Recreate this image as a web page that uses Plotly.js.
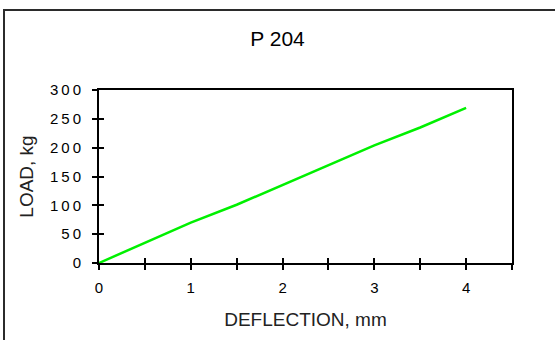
<!DOCTYPE html>
<html>
<head>
<meta charset="utf-8">
<script src="https://cdn.plot.ly/plotly-3.0.1.min.js"></script>
<style>
html,body{margin:0;padding:0;background:#fff;}
#wrap{position:relative;width:555px;height:340px;overflow:hidden;}
#chart{width:555px;height:340px;}
#frame{position:absolute;left:3px;top:9px;width:700px;height:500px;border-left:2px solid #2b2b2b;border-top:2px solid #2b2b2b;pointer-events:none;}
.ytick text{letter-spacing:3px;}
</style>
</head>
<body>
<div id="wrap"><div id="chart"></div><div id="frame"></div></div>
<script>
const chartTitle = "P 204";
const xTitle = "DEFLECTION, mm";
const yTitle = "LOAD, kg";
const deflection = [0, 0.5, 1, 1.5, 2, 2.5, 3, 3.5, 4];
const load = [0, 35, 70, 101, 135, 170, 204, 235, 269];
const xTickVals = [0, 0.5, 1, 1.5, 2, 2.5, 3, 3.5, 4, 4.5];
const xTickText = ["0", "", "1", "", "2", "", "3", "", "4", ""];
const yTickVals = [0, 50, 100, 150, 200, 250, 300];

const fam = "Liberation Sans, Arial, sans-serif";
const tickFont = {family: fam, size: 15, color: "#000"};
const axTitleFont = {family: fam, size: 19, color: "#222"};

const trace = {
  x: deflection, y: load, type: "scatter", mode: "lines",
  line: {color: "#00f000", width: 2.5}, xaxis: "x", yaxis: "y", showlegend: false
};
const dummy = {
  x: deflection, y: load, type: "scatter", mode: "lines",
  line: {color: "rgba(0,0,0,0)", width: 0}, xaxis: "x2", yaxis: "y2", showlegend: false, hoverinfo: "skip"
};

const commonAx = {showgrid: false, zeroline: false, ticklen: 5, tickwidth: 2, tickcolor: "#000", fixedrange: true};

const layout = {
  width: 555, height: 340,
  margin: {l: 99, r: 43, t: 90, b: 77},
  paper_bgcolor: "#fff", plot_bgcolor: "#fff",
  font: tickFont,
  title: {text: chartTitle, font: {family: fam, size: 21, color: "#000"}, x: 0.5, xanchor: "center", y: 0.885, yanchor: "middle"},
  xaxis: Object.assign({}, commonAx, {
    range: [0, 4.5], tickmode: "array", tickvals: xTickVals, ticktext: xTickText,
    ticks: "outside", showline: true, linewidth: 2, linecolor: "#000", mirror: true,
    ticklabelstandoff: 5, tickfont: tickFont,
    title: {text: xTitle, font: axTitleFont, standoff: 18}
  }),
  yaxis: Object.assign({}, commonAx, {
    range: [0, 300], tickmode: "array", tickvals: yTickVals,
    ticks: "outside", showline: true, linewidth: 2, linecolor: "#000", mirror: true,
    ticklabelstandoff: 5, tickfont: tickFont,
    title: {text: yTitle, font: axTitleFont, standoff: 11}
  }),
  xaxis2: Object.assign({}, commonAx, {
    overlaying: "x", anchor: "y2", range: [0, 4.5], tickmode: "array", tickvals: xTickVals,
    ticks: "inside", showticklabels: false, showline: false, side: "bottom"
  }),
  yaxis2: Object.assign({}, commonAx, {
    overlaying: "y", anchor: "x2", range: [0, 300], tickmode: "array", tickvals: yTickVals,
    ticks: "inside", showticklabels: false, showline: false, side: "left"
  })
};

Plotly.newPlot("chart", [dummy, trace], layout, {staticPlot: true, displayModeBar: false});
</script>
</body>
</html>
